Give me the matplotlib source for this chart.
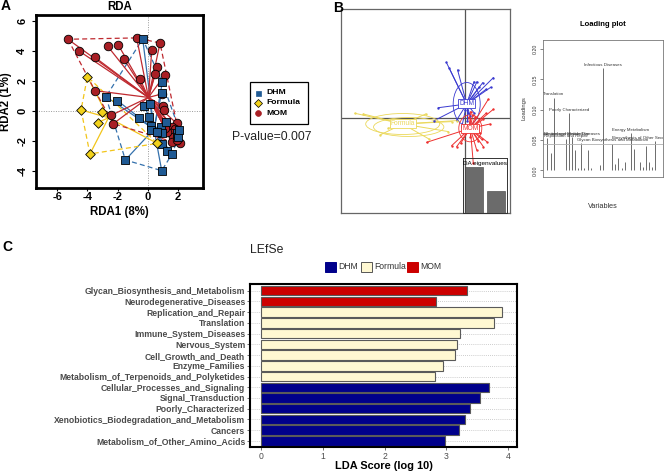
import numpy as np
import matplotlib
matplotlib.use("Agg")
import matplotlib.pyplot as plt
from matplotlib.patches import Ellipse, Rectangle
from matplotlib.lines import Line2D

plt.rcParams['font.family'] = ['Liberation Sans', 'DejaVu Sans']

W, H = 666, 475

# ---------------- Panel A : RDA ----------------
rda_dhm_x = [-0.33, 0.97, 0.93, -2.77, -2.01, -0.22, 0.15, -0.60, 0.09, 0.20, 0.20, 0.90,
             1.19, 0.93, 0.93, 1.26, 1.62, -1.48, 0.93, 1.92, 2.04, 2.10, 0.60]
rda_dhm_y = [4.78, 1.90, 1.22, 0.95, 0.69, 0.35, 0.46, -0.49, -0.38, -1.00, -1.26, -1.04,
             -0.71, -1.48, -2.19, -2.65, -2.85, -3.25, -3.96, -1.48, -1.75, -1.26, -1.37]
rda_formula_x = [-4.00, -4.42, -3.05, -3.32, -3.83, 0.64]
rda_formula_y = [2.28, 0.07, -0.04, -0.77, -2.85, -2.15]
rda_mom_x = [-5.29, -4.58, -3.50, -2.65, -1.95, -1.57, -0.73, 0.82, 0.27, 0.60, 0.51, 1.15,
             -0.51, -3.50, 0.93, 1.00, 1.10, -2.43, -2.28, 1.92, 1.37, 1.60, 1.81, 1.53,
             1.66, 2.15, 1.64, 1.26, 1.15, 1.95]
rda_mom_y = [4.76, 4.00, 3.56, 4.29, 4.38, 3.43, 4.85, 4.51, 4.05, 2.92, 2.46, 2.41,
             2.12, 1.35, 1.13, 0.33, 0.07, -0.29, -0.84, -0.82, -1.10, -1.04, -1.22, -1.48,
             -1.70, -2.15, -2.04, -1.37, -1.15, -1.95]
rda_groups = ['DHM', 'Formula', 'MOM']
rda_cent_x = [0.42, -2.60, 0.05]
rda_cent_y = [-1.20, -0.45, 0.90]
rda_xticks = [-6, -4, -2, 0, 2]
rda_yticks = [-4, -2, 0, 2, 4, 6]
p_value_text = "P-value=0.007"

# ---------------- Panel B : DAPC scatter ----------------
dapc_dhm_x = [-1.84, -1.54, -0.71, 0.93, 1.23, 1.43, 1.80, 2.86, 2.60, 2.13, -2.64, -3.07,
              -0.30, 0.53, 0.20, 0.93, -0.80, 0.03, 0.36]
dapc_dhm_y = [5.60, 5.00, 4.83, 3.66, 3.66, 3.10, 3.56, 4.06, 3.10, 2.90, 1.06, -0.24,
              -0.90, 0.23, -0.24, 0.56, -0.17, 0.83, 0.50]
dapc_formula_x = [-10.97, -10.13, -8.47, -7.63, -3.90, -3.57, -1.63, -1.30, -0.80]
dapc_formula_y = [0.50, 0.43, -1.67, -1.00, 0.43, -2.07, -1.33, -0.33, -0.23]
dapc_mom_x = [2.36, 2.86, 2.13, 1.86, 2.53, -3.80, -1.30, -0.80, -0.40, 1.36, 1.70, 2.20,
              1.86, 1.20, 0.86, -0.14, 0.60, 0.80, 1.06, 0.40, 0.90, 1.56, 0.56]
dapc_mom_y = [1.90, 0.90, 0.50, -0.10, -0.57, -2.40, -2.73, -2.83, -2.50, -2.27, -2.10, -2.33,
              -2.83, -3.17, -4.50, -1.50, 0.67, 0.33, 0.10, 0.10, -1.43, -1.50, -1.90]
dapc_cent_x = [0.20, -6.20, 0.56]
dapc_cent_y = [1.43, -0.57, -1.00]
dapc_ell_w = [2.7, 7.4, 2.3]
dapc_ell_h = [4.3, 2.1, 2.7]
da_eigenvalues = [35.2, 17.1]

# ---------------- Panel B : loading plot ----------------
loadings = [0.054, 0.029, 0.120, 0.001, 0.001, 0.001, 0.052, 0.0945, 0.055, 0.033,
            0.004, 0.045, 0.004, 0.033, 0.004, 0.001, 0.001, 0.009, 0.168, 0.001,
            0.001, 0.044, 0.010, 0.020, 0.004, 0.014, 0.001, 0.062, 0.036, 0.001,
            0.014, 0.006, 0.040, 0.014, 0.005, 0.048, 0.001]
loading_threshold = 0.044
loading_label_idx = [1, 3, 7, 8, 9, 19, 22, 28, 36]
loading_label_txt = ["Xenobiotics Biodegradation and Metabolism", "Translation",
                     "Replication and Repair", "Poorly Characterized",
                     "Neurodegenerative Diseases", "Infectious Diseases",
                     "Glycan Biosynthesis and Metabolism", "Energy Metabolism",
                     "Biosynthesis of Other Secondary Metabolites"]
loading_yticks = [0.00, 0.05, 0.10, 0.15, 0.20]

# ---------------- Panel C : LEfSe ----------------
lefse_features = ["Glycan_Biosynthesis_and_Metabolism", "Neurodegenerative_Diseases",
                  "Replication_and_Repair", "Translation", "Immune_System_Diseases",
                  "Nervous_System", "Cell_Growth_and_Death", "Enzyme_Families",
                  "Metabolism_of_Terpenoids_and_Polyketides",
                  "Cellular_Processes_and_Signaling", "Signal_Transduction",
                  "Poorly_Characterized", "Xenobiotics_Biodegradation_and_Metabolism",
                  "Cancers", "Metabolism_of_Other_Amino_Acids"]
lefse_scores = [3.33, 2.83, 3.90, 3.77, 3.22, 3.17, 3.14, 2.94, 2.82,
                3.69, 3.54, 3.38, 3.30, 3.20, 2.98]
lefse_groups = ["MOM", "MOM", "Formula", "Formula", "Formula", "Formula", "Formula",
                "Formula", "Formula", "DHM", "DHM", "DHM", "DHM", "DHM", "DHM"]
lefse_xticks = [0, 1, 2, 3, 4]

# ---------------- styles ----------------
rda_fill = {'DHM': '#1F5A94', 'Formula': '#F2D21B', 'MOM': '#A81F25'}
rda_line = {'DHM': '#3471AD', 'Formula': '#F2C51A', 'MOM': '#BF2A30'}
rda_marker = {'DHM': 's', 'Formula': 'D', 'MOM': 'o'}
rda_msize = {'DHM': 28, 'Formula': 24, 'MOM': 38}
dapc_col = {'DHM': '#3A3AD0', 'Formula': '#EBD85A', 'MOM': '#EE3030'}
lefse_col = {'DHM': '#00008B', 'Formula': '#FFF8D2', 'MOM': '#CC0000'}


def fig_rect(l, t, r, b):
    return [l / W, 1 - b / H, (r - l) / W, (b - t) / H]


def convex_hull(xs, ys):
    pts = sorted(set(zip(xs, ys)))

    def cross(o, a, b):
        return (a[0] - o[0]) * (b[1] - o[1]) - (a[1] - o[1]) * (b[0] - o[0])
    lower = []
    for p in pts:
        while len(lower) >= 2 and cross(lower[-2], lower[-1], p) <= 0:
            lower.pop()
        lower.append(p)
    upper = []
    for p in reversed(pts):
        while len(upper) >= 2 and cross(upper[-2], upper[-1], p) <= 0:
            upper.pop()
        upper.append(p)
    h = lower[:-1] + upper[:-1]
    h.append(h[0])
    return [p[0] for p in h], [p[1] for p in h]


fig = plt.figure(figsize=(W / 100, H / 100), dpi=100)

# =============== Panel A ===============
axA = fig.add_axes(fig_rect(35.7, 15, 202.7, 188.3))
axA.set_xlim(-7.43, 3.65)
axA.set_ylim(-5.13, 6.37)
axA.axhline(0, color='#9A9A9A', ls=(0, (1, 1.5)), lw=0.7, zorder=0)
axA.axvline(0, color='#9A9A9A', ls=(0, (1, 1.5)), lw=0.7, zorder=0)
grpA = {'DHM': (rda_dhm_x, rda_dhm_y), 'Formula': (rda_formula_x, rda_formula_y),
        'MOM': (rda_mom_x, rda_mom_y)}
for gi, g in enumerate(rda_groups):
    xs, ys = grpA[g]
    hx, hy = convex_hull(xs, ys)
    axA.plot(hx, hy, color=rda_line[g], lw=0.9, ls=(0, (4, 2.5)), zorder=1)
    cx, cy = rda_cent_x[gi], rda_cent_y[gi]
    for x, y in zip(xs, ys):
        axA.plot([cx, x], [cy, y], color=rda_line[g], lw=0.9, zorder=1)
for g in ['MOM', 'DHM', 'Formula']:
    xs, ys = grpA[g]
    axA.scatter(xs, ys, marker=rda_marker[g], s=rda_msize[g], facecolor=rda_fill[g],
                edgecolor='black', linewidth=0.6, zorder=3)
for s in axA.spines.values():
    s.set_linewidth(2)
axA.set_xticks(rda_xticks)
axA.set_xticklabels([str(v) for v in rda_xticks], fontsize=8, fontweight='bold')
axA.set_yticks(rda_yticks)
axA.set_yticklabels([str(v) for v in rda_yticks], fontsize=8, fontweight='bold',
                    rotation=90, va='center')
axA.tick_params(axis='x', length=2, width=0.8, pad=1)
axA.tick_params(axis='y', length=3, width=0.8, pad=3)

# =============== Panel B left ===============
axB = fig.add_axes(fig_rect(341, 9, 510, 213))
axB.set_xlim(-12.37, 4.53)
axB.set_ylim(-9.47, 10.93)
axB.set_xticks([])
axB.set_yticks([])
for s in axB.spines.values():
    s.set_color('#666666')
    s.set_linewidth(0.9)
axB.axhline(0, color='#555555', lw=0.9, zorder=0)
axB.axvline(0, color='#555555', lw=0.9, zorder=0)
grpB = {'DHM': (dapc_dhm_x, dapc_dhm_y), 'Formula': (dapc_formula_x, dapc_formula_y),
        'MOM': (dapc_mom_x, dapc_mom_y)}
for gi, g in enumerate(rda_groups):
    xs, ys = grpB[g]
    cx, cy = dapc_cent_x[gi], dapc_cent_y[gi]
    for x, y in zip(xs, ys):
        axB.plot([cx, x], [cy, y], color=dapc_col[g], lw=0.7, zorder=2)
    axB.scatter(xs, ys, s=3, color=dapc_col[g], zorder=3, linewidths=0)
    axB.add_patch(Ellipse((cx, cy), dapc_ell_w[gi], dapc_ell_h[gi], fill=False,
                          edgecolor=dapc_col[g], lw=0.6, zorder=2))
    if g == 'Formula':
        axB.add_patch(Ellipse((cx + 0.6, cy - 0.3), dapc_ell_w[gi] * 0.95,
                              dapc_ell_h[gi] * 0.9, fill=False,
                              edgecolor=dapc_col[g], lw=0.6, zorder=2))
    axB.text(cx, cy, g, color=dapc_col[g], fontsize=4.8, ha='center', va='center',
             zorder=4, bbox=dict(boxstyle='square,pad=0.15', fc='white',
                                 ec=dapc_col[g], lw=0.6))

# eigenvalue inset
axE = fig.add_axes(fig_rect(463.3, 158.3, 506.7, 213.3))
axE.patch.set_alpha(0)
axE.bar([0, 1], da_eigenvalues, width=0.83, color='#6B6B6B', edgecolor='#3A3A3A', lw=0.4)
axE.set_xlim(-0.49, 1.51)
axE.set_ylim(0, da_eigenvalues[0] / 0.847)
axE.set_xticks([])
axE.set_yticks([])
for s in axE.spines.values():
    s.set_color('#333333')
    s.set_linewidth(0.7)
axE.text(0.5, 0.9, "DA eigenvalues", transform=axE.transAxes, fontsize=4.6,
         ha='center', va='center', color='black')

# =============== Panel B right (loading plot) ===============
axL = fig.add_axes(fig_rect(543, 40, 663, 177))
idx = np.arange(1, len(loadings) + 1)
axL.vlines(idx, 0, loadings, color='#555555', lw=0.6)
axL.axhline(loading_threshold, color='#B0B0B0', lw=0.6)
n_l = len(loadings)
axL.set_xlim(1 - 0.04 * (n_l - 1), n_l + 0.04 * (n_l - 1))
axL.set_ylim(-0.011, 0.215)
axL.set_xticks([])
axL.set_yticks(loading_yticks)
axL.set_yticklabels(["%.2f" % v for v in loading_yticks], fontsize=3.8, rotation=90,
                    va='center', color='#333333')
axL.tick_params(axis='y', length=2, width=0.5, pad=1.5, color='#555555')
for s in axL.spines.values():
    s.set_color('#777777')
    s.set_linewidth(0.6)
for i, t in zip(loading_label_idx, loading_label_txt):
    axL.text(i, loadings[i - 1] + 0.002, t, fontsize=3.2, ha='center', va='bottom',
             color='#333333', clip_on=True)

# =============== Panel C ===============
axC = fig.add_axes(fig_rect(250, 284.3, 517, 447.3))
nC = len(lefse_features)
ypos = np.arange(nC)[::-1]
for y in ypos:
    axC.axhline(y, color='#BDBDBD', ls=(0, (1, 1.5)), lw=0.6, zorder=0)
axC.barh(ypos, lefse_scores, height=0.88, color=[lefse_col[g] for g in lefse_groups],
         edgecolor='#5A5A5A', linewidth=0.8, zorder=2)
axC.set_ylim(-0.6, nC - 0.4)
axC.set_xlim(-0.178, 4.142)
axC.set_yticks(ypos)
axC.set_yticklabels(lefse_features, fontsize=6.2, fontweight='bold', color='#4A4A4A')
axC.set_xticks(lefse_xticks)
axC.set_xticklabels([str(v) for v in lefse_xticks], fontsize=6.2, color='#4D4D4D')
axC.tick_params(axis='both', length=2, width=0.6, color='#555555', pad=1.5)
for s in axC.spines.values():
    s.set_linewidth(1.5)

# =============== overlay text (pixel coordinates) ===============
ov = fig.add_axes([0, 0, 1, 1])
ov.set_xlim(0, W)
ov.set_ylim(H, 0)
ov.axis('off')
ov.patch.set_alpha(0)

ov.text(1, -1, "A", fontsize=10, fontweight='bold', ha='left', va='top')
ov.text(333, 1, "B", fontsize=10, fontweight='bold', ha='left', va='top')
ov.text(2, 240, "C", fontsize=10, fontweight='bold', ha='left', va='top')

ov.text(119.2, 7.5, "RDA", fontsize=8.3, fontweight='bold', ha='center', va='center')
ov.text(119.2, 212, "RDA1 (8%)", fontsize=8.3, fontweight='bold', ha='center', va='center')
ov.text(6.5, 101.5, "RDA2 (1%)", fontsize=8.3, fontweight='bold', ha='center', va='center',
        rotation=90)

# panel A legend
ov.add_patch(Rectangle((250, 82), 58, 42, fill=False, ec='black', lw=0.9))
for k, g in enumerate(rda_groups):
    yy = 92.7 + k * 10.3
    ov.add_line(Line2D([258], [yy], marker=rda_marker[g], ms=3.6 if g != 'MOM' else 4.2,
                       mfc=rda_fill[g], mec='black' if g == 'Formula' else rda_fill[g],
                       mew=0.5, ls='none'))
    ov.text(266, yy, g, fontsize=6.1, fontweight='bold', ha='left', va='center')
ov.text(272, 137, p_value_text, fontsize=8.8, ha='center', va='center', color='#222222')

# panel B texts
ov.text(603, 25, "Loading plot", fontsize=5.5, fontweight='bold', ha='center', va='center')
ov.text(524, 108, "Loadings", fontsize=4.2, ha='center', va='center', rotation=90,
        color='#333333')
ov.text(603, 206, "Variables", fontsize=5.2, ha='center', va='center', color='#333333')

# panel C texts and legend
ov.text(250, 250, "LEfSe", fontsize=8.8, ha='left', va='center', color='#222222')
leg_x = [325, 360.7, 406.7]
for g, lx in zip(rda_groups, leg_x):
    ec = '#555555' if g == 'Formula' else lefse_col[g]
    ov.add_patch(Rectangle((lx, 261.7), 11, 10, fc=lefse_col[g], ec=ec, lw=0.7))
    ov.text(lx + 13.5, 266.7, g, fontsize=6.2, ha='left', va='center', color='#333333')
ov.text(383.5, 466, "LDA Score (log 10)", fontsize=7.9, fontweight='bold', ha='center',
        va='center')

fig.savefig("out.png", dpi=100)
